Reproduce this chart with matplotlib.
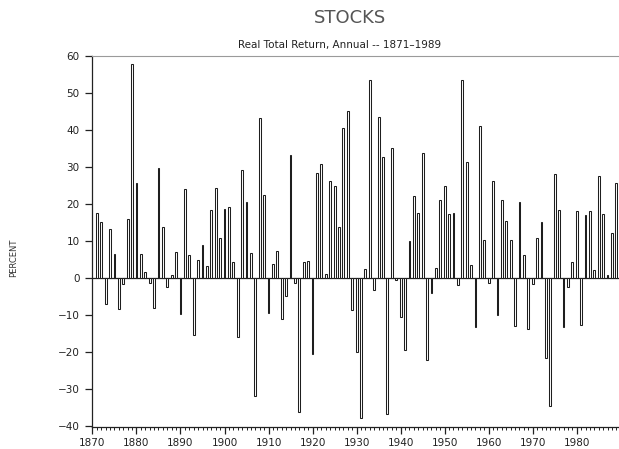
import matplotlib
matplotlib.use("Agg")
import matplotlib.pyplot as plt
from matplotlib.ticker import MultipleLocator

years = list(range(1871, 1990))
returns = [
    # 1871-1880
    17.7, 15.0, -7.2, 13.2, 6.5, -8.4, -1.6, 16.0, 57.8, 25.7,
    # 1881-1890
    6.5, 1.5, -1.4, -8.1, 29.8, 13.9, -2.5, 0.9, 6.9, -9.7,
    # 1891-1900
    24.1, 6.2, -15.4, 4.9, 9.0, 3.3, 18.5, 24.3, 10.8, 18.6,
    # 1901-1910
    19.2, 4.2, -16.1, 29.3, 20.5, 6.7, -32.0, 43.3, 22.4, -9.6,
    # 1911-1920
    3.7, 7.3, -11.1, -4.9, 33.4, -1.4, -36.3, 4.3, 4.5, -20.7,
    # 1921-1930
    28.4, 30.9, 1.0, 26.3, 24.8, 13.7, 40.6, 45.3, -8.7, -20.0,
    # 1931-1940
    -38.0, 2.4, 53.6, -3.4, 43.6, 32.7, -37.0, 35.2, -0.5, -10.7,
    # 1941-1950
    -19.5, 10.1, 22.3, 17.6, 33.7, -22.3, -4.0, 2.8, 21.2, 24.8,
    # 1951-1960
    17.4, 17.6, -1.9, 53.6, 31.3, 3.5, -13.4, 41.1, 10.3, -1.3,
    # 1961-1970
    26.2, -10.0, 21.0, 15.3, 10.3, -13.0, 20.5, 6.1, -13.9, -1.6,
    # 1971-1980
    10.7, 15.2, -21.8, -34.8, 28.2, 18.3, -13.2, -2.5, 4.4, 18.0,
    # 1981-1989
    -12.9, 17.1, 18.2, 2.2, 27.5, 17.4, 0.7, 12.1, 25.7,
]
y_ticks = [-40, -30, -20, -10, 0, 10, 20, 30, 40, 50, 60]
x_ticks = [1870, 1880, 1890, 1900, 1910, 1920, 1930, 1940, 1950, 1960, 1970, 1980]

plt.rcParams['font.family'] = ['DejaVu Sans']
fig = plt.figure(figsize=(6.19, 4.49), dpi=100)
ax = fig.add_axes([92 / 619, 22 / 449, 527 / 619, 371 / 449])

ax.bar(years, returns, width=0.42, facecolor='white', edgecolor='#1e1e1e',
       linewidth=0.75, zorder=3)
ax.axhline(0, color='#1e1e1e', linewidth=0.9, zorder=2)

ax.set_xlim(1869.9, 1989.6)
ax.set_ylim(-40.4, 60.1)
ax.set_xticks(x_ticks)
ax.set_yticks(y_ticks)
ax.xaxis.set_minor_locator(MultipleLocator(1))

ax.tick_params(axis='x', which='major', direction='out', length=5, width=0.9,
               labelsize=7.5, colors='#222222', pad=3)
ax.tick_params(axis='x', which='minor', direction='out', length=2.5, width=0.7,
               colors='#222222')
ax.tick_params(axis='y', which='major', direction='out', length=5, width=0.9,
               labelsize=7.5, colors='#222222', pad=4)

for s in ['left', 'bottom']:
    ax.spines[s].set_color('#222222')
    ax.spines[s].set_linewidth(0.9)
ax.spines['top'].set_color('#9a9a9a')
ax.spines['top'].set_linewidth(0.8)
ax.spines['right'].set_visible(False)

fig.text(350 / 619, 1 - 18 / 449, 'STOCKS', ha='center', va='center',
         fontsize=13, color='#555555')
fig.text(340 / 619, 1 - 45 / 449, 'Real Total Return, Annual -- 1871\u20131989',
         ha='center', va='center', fontsize=7.5, color='#222222')
fig.text(14 / 619, 1 - 258 / 449, 'PERCENT', ha='center', va='center',
         rotation=90, fontsize=6, color='#333333')

fig.savefig('out.png', dpi=100)
